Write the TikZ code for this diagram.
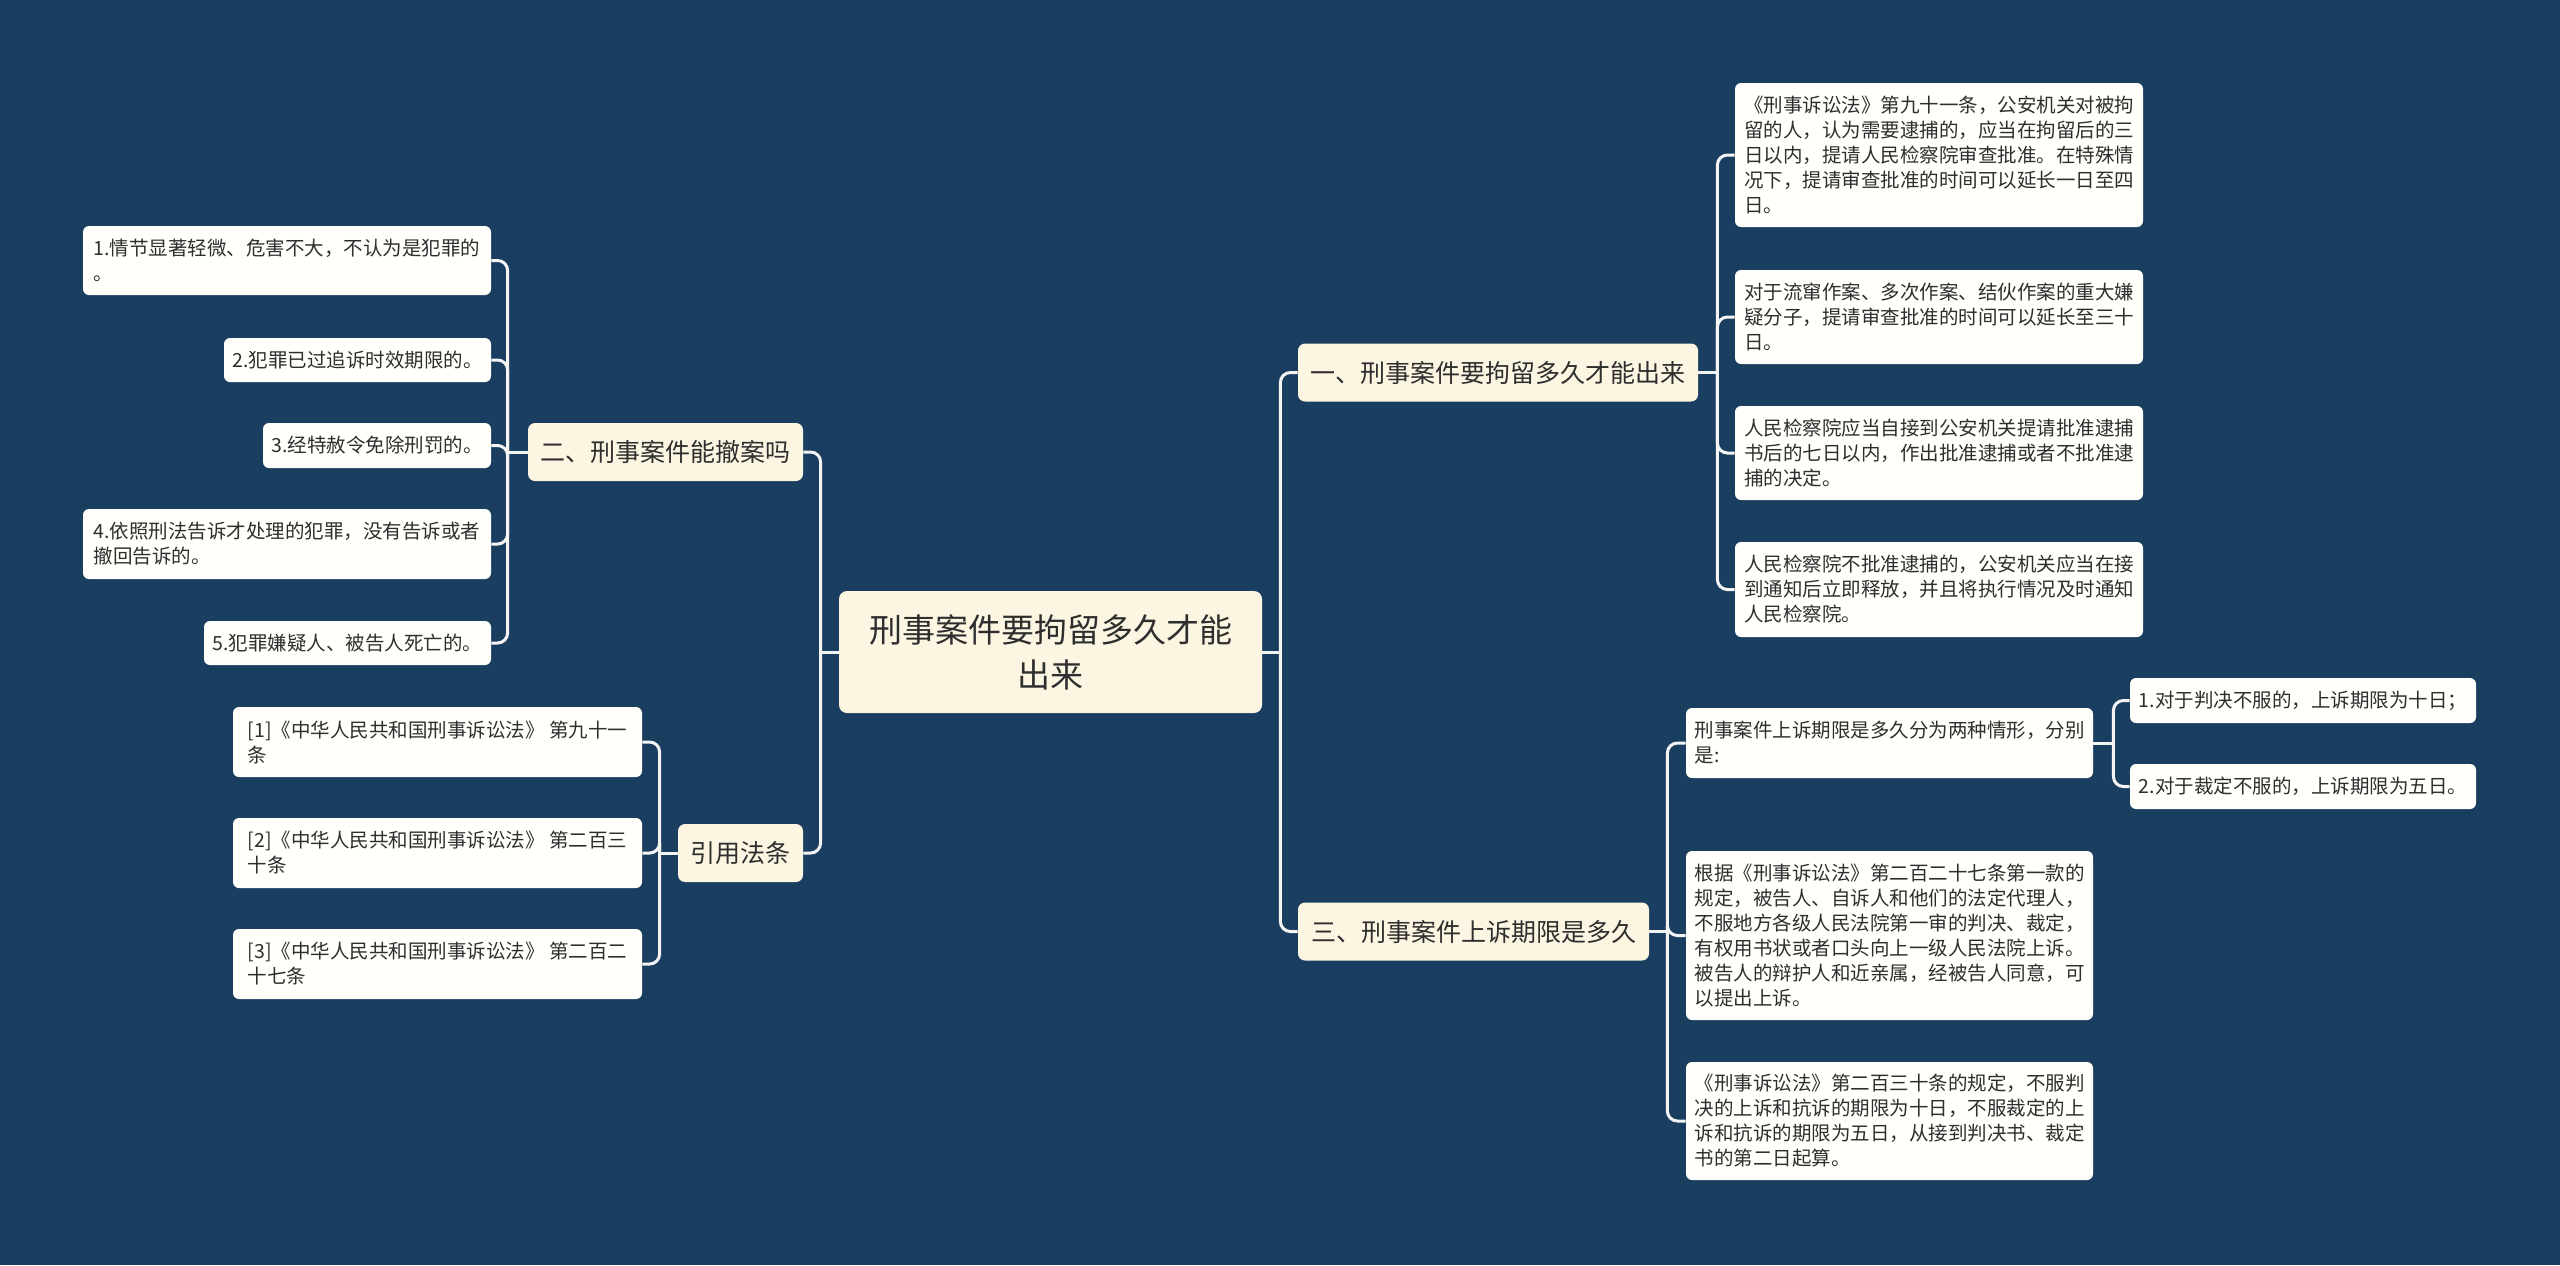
\documentclass[tikz,border=0pt]{standalone}
\usepackage{fontspec}
\setmainfont{Noto Sans CJK SC}
\definecolor{bgc}{HTML}{1A3E60}
\definecolor{rootc}{HTML}{FBF5E2}
\definecolor{leafc}{HTML}{FFFFFB}
\definecolor{linec}{HTML}{F4F4F4}
\definecolor{textc}{HTML}{2E2E2E}
\tikzset{
  rootbox/.style={fill=rootc, rounded corners=4pt, inner sep=0pt, align=center, text=textc,
    font=\fontsize{16.5pt}{22.5pt}\selectfont},
  midbox/.style={fill=rootc, rounded corners=3.5pt, inner sep=0pt, align=center, text=textc,
    font=\fontsize{12.5pt}{16pt}\selectfont, minimum height=29pt},
  leafbox/.style={fill=leafc, rounded corners=3pt, inner sep=0pt, align=left, text=textc,
    font=\fontsize{9.75pt}{12.5pt}\selectfont},
  conn/.style={draw=linec, line width=1.5pt, rounded corners=5pt}
}
\begin{document}
\begin{tikzpicture}[x=0.5pt,y=-0.5pt]
\fill[bgc] (0,0) rectangle (2560,1265);
\useasboundingbox (0,0) rectangle (2560,1265);

% root
\node[rootbox, minimum width=211.5pt, minimum height=61pt] (root) at (1050.5,652) {刑事案件要拘留多久才能\\出来};

% level 1
\node[midbox, minimum width=137.5pt] (L2) at (665.5,452) {二、刑事案件能撤案吗};
\node[midbox, minimum width=62.5pt] (Lref) at (740.5,853) {引用法条};
\node[midbox, minimum width=200pt] (L1) at (1498,372.5) {一、刑事案件要拘留多久才能出来};
\node[midbox, minimum width=175.5pt] (L3) at (1473.5,931.5) {三、刑事案件上诉期限是多久};

% left leaves
\node[leafbox, minimum width=204pt, minimum height=34.5pt] (n1) at (287,260.5) {1.情节显著轻微、危害不大，不认为是犯罪的\\。};
\node[leafbox, minimum width=133.5pt, minimum height=22pt] (n2) at (357.5,360) {2.犯罪已过追诉时效期限的。};
\node[leafbox, minimum width=114pt, minimum height=22.5pt] (n3) at (377,445.5) {3.经特赦令免除刑罚的。};
\node[leafbox, minimum width=204pt, minimum height=35pt] (n4) at (287,544) {4.依照刑法告诉才处理的犯罪，没有告诉或者\\撤回告诉的。};
\node[leafbox, minimum width=143.5pt, minimum height=22pt] (n5) at (347.5,643) {5.犯罪嫌疑人、被告人死亡的。};

% references
\node[leafbox, minimum width=204.5pt, minimum height=35pt] (r1) at (437.5,742) {[1]《中华人民共和国刑事诉讼法》 第九十一\\条};
\node[leafbox, minimum width=204.5pt, minimum height=35pt] (r2) at (437.5,853) {[2]《中华人民共和国刑事诉讼法》 第二百三\\十条};
\node[leafbox, minimum width=204.5pt, minimum height=35pt] (r3) at (437.5,964) {[3]《中华人民共和国刑事诉讼法》 第二百二\\十七条};

% right leaves under L1
\node[leafbox, minimum width=204pt, minimum height=72pt] (a) at (1939,155) {《刑事诉讼法》第九十一条，公安机关对被拘\\留的人，认为需要逮捕的，应当在拘留后的三\\日以内，提请人民检察院审查批准。在特殊情\\况下，提请审查批准的时间可以延长一日至四\\日。};
\node[leafbox, minimum width=204pt, minimum height=47pt] (b) at (1939,317) {对于流窜作案、多次作案、结伙作案的重大嫌\\疑分子，提请审查批准的时间可以延长至三十\\日。};
\node[leafbox, minimum width=204pt, minimum height=47pt] (c) at (1939,453) {人民检察院应当自接到公安机关提请批准逮捕\\书后的七日以内，作出批准逮捕或者不批准逮\\捕的决定。};
\node[leafbox, minimum width=204pt, minimum height=47.5pt] (d) at (1939,589.5) {人民检察院不批准逮捕的，公安机关应当在接\\到通知后立即释放，并且将执行情况及时通知\\人民检察院。};

% right leaves under L3
\node[leafbox, minimum width=203.5pt, minimum height=35pt] (e) at (1889.5,743) {刑事案件上诉期限是多久分为两种情形，分别\\是:};
\node[leafbox, minimum width=203.5pt, minimum height=84.5pt] (f) at (1889.5,935.5) {根据《刑事诉讼法》第二百二十七条第一款的\\规定，被告人、自诉人和他们的法定代理人，\\不服地方各级人民法院第一审的判决、裁定，\\有权用书状或者口头向上一级人民法院上诉。\\被告人的辩护人和近亲属，经被告人同意，可\\以提出上诉。};
\node[leafbox, minimum width=203.5pt, minimum height=59pt] (g) at (1889.5,1121) {《刑事诉讼法》第二百三十条的规定，不服判\\决的上诉和抗诉的期限为十日，不服裁定的上\\诉和抗诉的期限为五日，从接到判决书、裁定\\书的第二日起算。};
\node[leafbox, minimum width=173pt, minimum height=22.5pt] (h) at (2303,700.5) {1.对于判决不服的，上诉期限为十日；};
\node[leafbox, minimum width=173pt, minimum height=22.5pt] (i) at (2303,786.5) {2.对于裁定不服的，上诉期限为五日。};

% connector junctions
\draw[conn] (root.west) -- ++(-18,0) coordinate (jrl);
\draw[conn] (root.east) -- ++(18,0) coordinate (jrr);
\draw[conn] (L2.west) -- ++(-20,0) coordinate (j2);
\draw[conn] (Lref.west) -- ++(-18,0) coordinate (jref);
\draw[conn] (L1.east) -- ++(19,0) coordinate (j1);
\draw[conn] (L3.east) -- ++(18,0) coordinate (j3);
\draw[conn] (e.east) -- ++(20,0) coordinate (je);

% connectors
\foreach \t in {L2,Lref} \draw[conn] (\t.east) -| (jrl);
\foreach \t in {L1,L3} \draw[conn] (\t.west) -| (jrr);
\foreach \t in {n1,n2,n3,n4,n5} \draw[conn] (\t.east) -| (j2);
\foreach \t in {r1,r2,r3} \draw[conn] (\t.east) -| (jref);
\foreach \t in {a,b,c,d} \draw[conn] (\t.west) -| (j1);
\foreach \t in {e,f,g} \draw[conn] (\t.west) -| (j3);
\foreach \t in {h,i} \draw[conn] (\t.west) -| (je);
\end{tikzpicture}
\end{document}
